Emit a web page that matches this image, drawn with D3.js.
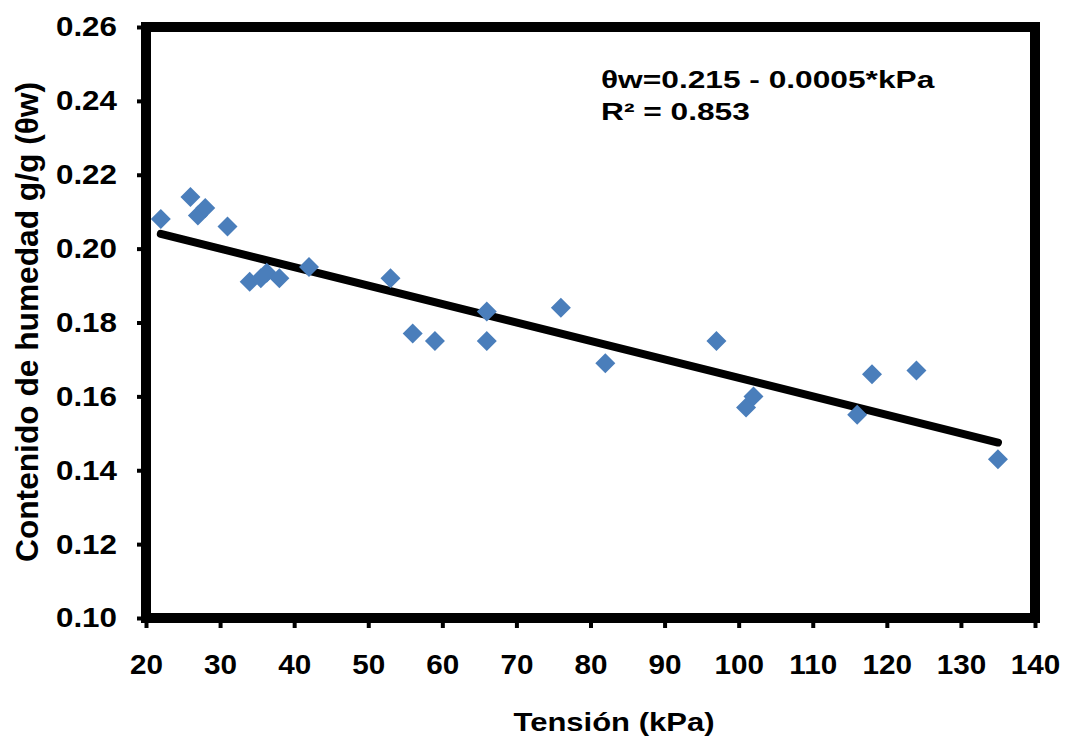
<!DOCTYPE html>
<html>
<head>
<meta charset="utf-8">
<script src="https://cdn.jsdelivr.net/npm/d3@7"></script>
<style>
  body { margin: 0; background: #fff; }
  text { font-family: "Liberation Sans", Arial, sans-serif; font-weight: bold; }
</style>
</head>
<body>
<div id="container"></div>
<script>
// data
const tension = [22, 26, 27, 28, 31, 34, 35.5, 36.3, 38, 42, 53, 56, 59, 66, 66, 76, 82, 97, 101, 102, 116, 118, 124, 135];
const moisture = [0.208, 0.214, 0.209, 0.211, 0.206, 0.191, 0.192, 0.1935, 0.192, 0.195, 0.192, 0.177, 0.175, 0.183, 0.175, 0.184, 0.169, 0.175, 0.157, 0.160, 0.155, 0.166, 0.167, 0.143];
const xTicks = [20, 30, 40, 50, 60, 70, 80, 90, 100, 110, 120, 130, 140];
const yTicks = [0.10, 0.12, 0.14, 0.16, 0.18, 0.20, 0.22, 0.24, 0.26];
const intercept = 0.215;
const slope = -0.0005;
const eqLines = ["θw=0.215 - 0.0005*kPa", "R² = 0.853"];

const width = 1065, height = 742;
const margin = {left: 146, right: 30, top: 27, bottom: 124};

const container = document.getElementById("container");
const svg = d3.create("svg")
    .attr("width", width)
    .attr("height", height);
container.append(svg.node());

// the source picture has wide glyphs: stretch text along its run
function widen(sel, k) {
    sel.each(function() {
        const w = this.getComputedTextLength();
        d3.select(this)
            .attr("textLength", w * k)
            .attr("lengthAdjust", "spacingAndGlyphs");
    });
}

const x = d3.scaleLinear().domain([20, 140]).range([margin.left, width - margin.right]);
const y = d3.scaleLinear().domain([0.10, 0.26]).range([height - margin.bottom, margin.top]);

// axes (ticks outward, domain replaced by the frame)
const xAxis = svg.append("g")
    .attr("transform", `translate(0,${y(0.10)})`)
    .call(d3.axisBottom(x).tickValues(xTicks).tickSize(10).tickSizeOuter(0).tickPadding(26).tickFormat(d3.format("d")));
const yAxis = svg.append("g")
    .attr("transform", `translate(${x(20)},0)`)
    .call(d3.axisLeft(y).tickValues(yTicks).tickSize(9).tickSizeOuter(0).tickPadding(20).tickFormat(d3.format(".2f")));

[xAxis, yAxis].forEach(g => {
    g.select(".domain").remove();
    g.selectAll(".tick line").attr("stroke", "#000").attr("stroke-width", 4);
    g.selectAll(".tick text")
        .attr("fill", "#000")
        .attr("font-size", 28)
        .attr("font-family", "'Liberation Sans', Arial, sans-serif")
        .attr("font-weight", "bold");
});
widen(xAxis.selectAll(".tick text"), 1.06);
widen(yAxis.selectAll(".tick text"), 1.12);

// frame
svg.append("rect")
    .attr("x", x(20))
    .attr("y", y(0.26))
    .attr("width", x(140) - x(20))
    .attr("height", y(0.10) - y(0.26))
    .attr("fill", "none")
    .attr("stroke", "#000")
    .attr("stroke-width", 10);

// trend line
const xMin = d3.min(tension), xMax = d3.max(tension);
svg.append("line")
    .attr("x1", x(xMin))
    .attr("y1", y(intercept + slope * xMin))
    .attr("x2", x(xMax))
    .attr("y2", y(intercept + slope * xMax))
    .attr("stroke", "#000")
    .attr("stroke-width", 8)
    .attr("stroke-linecap", "round");

// diamond markers
const diamond = d3.symbol().type(d3.symbolSquare).size(200);
svg.append("g")
    .selectAll("path")
    .data(tension.map((t, i) => [t, moisture[i]]))
    .join("path")
    .attr("d", diamond)
    .attr("transform", d => `translate(${x(d[0])},${y(d[1])}) rotate(45)`)
    .attr("fill", "#4A7EBB");

// equation
const eq = svg.append("g")
    .selectAll("text")
    .data(eqLines)
    .join("text")
    .attr("x", 601)
    .attr("y", (d, i) => 88 + i * 32)
    .attr("font-size", 24)
    .attr("fill", "#000")
    .text(d => d);
widen(eq, 1.32);

// axis titles
const xTitle = svg.append("text")
    .attr("x", 614)
    .attr("y", 731)
    .attr("text-anchor", "middle")
    .attr("font-size", 25)
    .text("Tensión (kPa)");
widen(xTitle, 1.24);

svg.append("text")
    .attr("transform", `translate(38,322) rotate(-90)`)
    .attr("text-anchor", "middle")
    .attr("font-size", 32)
    .attr("textLength", 480)
    .attr("lengthAdjust", "spacingAndGlyphs")
    .text("Contenido de humedad g/g (θw)");
</script>
</body>
</html>
